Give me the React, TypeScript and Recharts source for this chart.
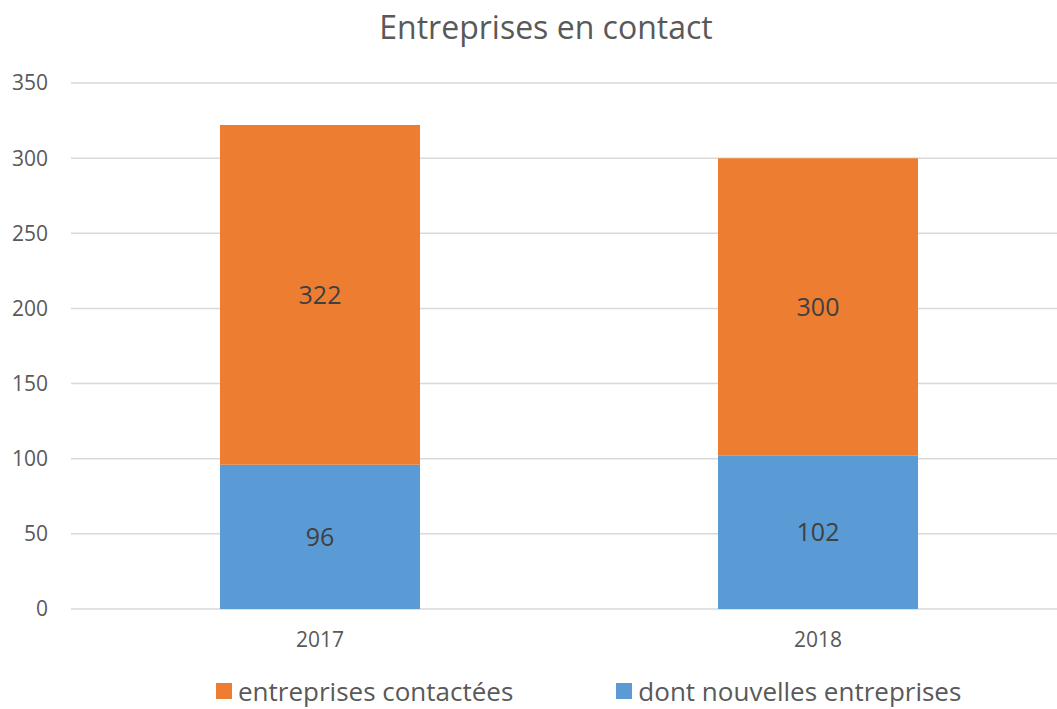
import React from 'react';
import { BarChart, Bar, XAxis, YAxis, CartesianGrid, Legend, LabelList } from 'recharts';

const categories = ['2017', '2018'];
const contactees = [322, 300];
const nouvelles = [96, 102];
const yTicks = [0, 50, 100, 150, 200, 250, 300, 350];

const seriesContactees = { name: 'entreprises contactées', color: '#ED7D31' };
const seriesNouvelles = { name: 'dont nouvelles entreprises', color: '#5B9BD5' };

const data = categories.map((c, i) => ({
  year: c,
  contactees: contactees[i],
  nouvelles: nouvelles[i],
  reste: contactees[i] - nouvelles[i],
}));

const FONT = '"Open Sans", sans-serif';

const renderLegend = () => (
  <div style={{ display: 'flex', alignItems: 'center', marginLeft: 216, fontFamily: FONT, fontSize: 26, color: '#595959', height: 28 }}>
    {[seriesContactees, seriesNouvelles].map((s, i) => (
      <div key={s.name} style={{ display: 'flex', alignItems: 'center', marginRight: i === 0 ? 103 : 0 }}>
        <div style={{ width: 16, height: 16, background: s.color, marginRight: 6 }} />
        <span style={{ lineHeight: '28px', whiteSpace: 'nowrap' }}>{s.name}</span>
      </div>
    ))}
  </div>
);

export default function App() {
  return (
    <div style={{ position: 'absolute', left: 0, top: 0, width: 1057, height: 709, overflow: 'hidden', background: '#fff', fontFamily: FONT }}>
      <div style={{ position: 'absolute', left: 0, width: 1092, top: 5, textAlign: 'center', fontSize: 32, color: '#595959', lineHeight: 'normal' }}>
        Entreprises en contact
      </div>
      <BarChart width={1077} height={709} data={data} margin={{ top: 83, right: 10, bottom: 60, left: 0 }} barSize={200}>
        <CartesianGrid vertical={false} stroke="#D9D9D9" strokeWidth={1.5} />
        <XAxis dataKey="year" axisLine={false} tickLine={false} tickSize={0} tickMargin={23} height={40}
          tick={{ fill: '#595959', fontSize: 21, fontFamily: FONT }} />
        <YAxis domain={[0, 350]} ticks={yTicks} axisLine={false} tickLine={false} tickSize={0} tickMargin={23} width={71}
          tick={{ fill: '#595959', fontSize: 21, fontFamily: FONT }} />
        <Legend layout="horizontal" verticalAlign="middle" align="center" content={renderLegend}
          wrapperStyle={{ top: 677, left: 0, width: 1057, height: 28 }} />
        <Bar dataKey="nouvelles" stackId="a" fill={seriesNouvelles.color} name={seriesNouvelles.name} isAnimationActive={false}>
          <LabelList dataKey="nouvelles" position="center" fill="#404040" fontSize={25} fontFamily={FONT} />
        </Bar>
        <Bar dataKey="reste" stackId="a" fill={seriesContactees.color} name={seriesContactees.name} isAnimationActive={false}>
          <LabelList dataKey="contactees" position="center" fill="#404040" fontSize={25} fontFamily={FONT} />
        </Bar>
      </BarChart>
    </div>
  );
}
